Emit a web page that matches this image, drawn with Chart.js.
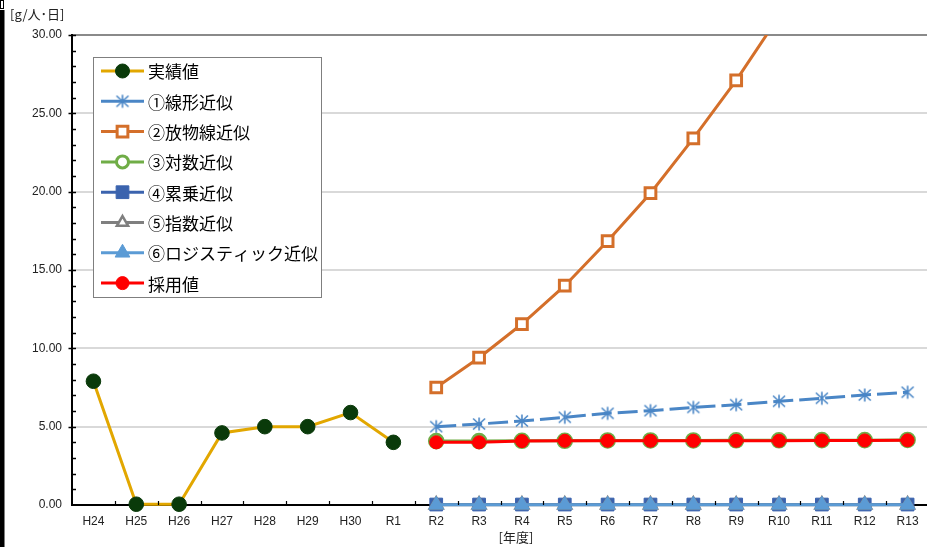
<!DOCTYPE html>
<html>
<head>
<meta charset="utf-8">
<script src="https://cdn.jsdelivr.net/npm/chart.js@4.4.1/dist/chart.umd.min.js"></script>
<style>
html,body{margin:0;padding:0;background:#fff;overflow:hidden;}
#wrap{position:relative;width:940px;height:547px;}
</style>
</head>
<body>
<div id="wrap"><canvas id="c"></canvas></div>
<script>
// ---- data ----
const categories = ['H24','H25','H26','H27','H28','H29','H30','R1','R2','R3','R4','R5','R6','R7','R8','R9','R10','R11','R12','R13'];
const seriesNames = ['実績値','①線形近似','②放物線近似','③対数近似','④累乗近似','⑤指数近似','⑥ロジスティック近似','採用値'];
const actual      = [7.9, 0.05, 0.05, 4.6, 5.0, 5.0, 5.9, 4.0, null,null,null,null,null,null,null,null,null,null,null,null];
const linear      = [null,null,null,null,null,null,null,null, 5.0, 5.17, 5.36, 5.6, 5.85, 6.02, 6.23, 6.4, 6.62, 6.81, 7.02, 7.2];
const parabolic   = [null,null,null,null,null,null,null,null, 7.5, 9.4, 11.55, 14.0, 16.85, 19.9, 23.4, 27.1, 31.2, 35.6, 40.3, 45.4];
const logarithmic = [null,null,null,null,null,null,null,null, 4.08, 4.08, 4.1, 4.1, 4.12, 4.12, 4.12, 4.13, 4.13, 4.14, 4.14, 4.15];
const power       = [null,null,null,null,null,null,null,null, 0.03, 0.03, 0.03, 0.03, 0.03, 0.03, 0.03, 0.03, 0.03, 0.03, 0.03, 0.03];
const exponential = [null,null,null,null,null,null,null,null, 0.02, 0.02, 0.02, 0.02, 0.02, 0.02, 0.02, 0.02, 0.02, 0.02, 0.02, 0.02];
const logistic    = [null,null,null,null,null,null,null,null, 0.01, 0.01, 0.01, 0.01, 0.01, 0.01, 0.01, 0.01, 0.01, 0.01, 0.01, 0.01];
const adopted     = [null,null,null,null,null,null,null,null, 4.0, 4.0, 4.08, 4.1, 4.1, 4.1, 4.1, 4.1, 4.1, 4.12, 4.12, 4.13];
const yTicks = [0, 5, 10, 15, 20, 25, 30];
const yUnitLabel = '[g/人･日]';
const xTitle = '[年度]';

// asterisk marker image
function makeAsterisk(color){
  const c = document.createElement('canvas');
  c.width = 16; c.height = 16;
  const g = c.getContext('2d');
  g.strokeStyle = color; g.lineWidth = 1.6; g.lineCap = 'butt';
  g.beginPath();
  g.moveTo(8,1.5); g.lineTo(8,14.5);
  g.moveTo(2,2.5); g.lineTo(14,13.5);
  g.moveTo(14,2.5); g.lineTo(2,13.5);
  g.stroke();
  return c;
}
const C = {
  actualLine:'#E2A700', actualPt:'#0A3A0A',
  linear:'#4A86C6', parab:'#D46F2A', log:'#70AD47', power:'#3B63AE',
  expo:'#7F7F7F', logi:'#5B9BD5', adopt:'#FF0000'
};
const asterisk = makeAsterisk(C.linear);

const datasets = [
  {label:seriesNames[0], data:actual, borderColor:C.actualLine, backgroundColor:C.actualPt, pointBorderColor:C.actualPt,
   pointStyle:'circle', pointRadius:7.3, pointBorderWidth:1, borderWidth:3, order:0, clip:false, _m:{style:'circle',r:7,fill:C.actualPt,stroke:C.actualPt,bw:1}},
  {label:seriesNames[1], data:linear, borderColor:C.linear, backgroundColor:C.linear, borderDash:[20,6],
   pointStyle:asterisk, pointRadius:8, borderWidth:3, order:7, clip:false, _m:{style:'asterisk'}},
  {label:seriesNames[2], data:parabolic, borderColor:C.parab, backgroundColor:'#ffffff', pointBorderColor:C.parab,
   pointStyle:'rect', pointRadius:7.6, pointBorderWidth:3, borderWidth:3, order:6, _m:{style:'rect',r:7.6,fill:'#fff',stroke:C.parab,bw:3}},
  {label:seriesNames[3], data:logarithmic, borderColor:C.log, backgroundColor:'#ffffff', pointBorderColor:C.log,
   pointStyle:'circle', pointRadius:6.8, pointBorderWidth:3, borderWidth:3, order:5, clip:false, _m:{style:'circle',r:6,fill:'#fff',stroke:C.log,bw:3}},
  {label:seriesNames[4], data:power, borderColor:C.power, backgroundColor:C.power, pointBorderColor:C.power,
   pointStyle:'rect', pointRadius:9, pointBorderWidth:1, borderWidth:3, order:4, clip:false, _m:{style:'rect',r:9,fill:C.power,stroke:C.power,bw:1}},
  {label:seriesNames[5], data:exponential, borderColor:C.expo, backgroundColor:'#ffffff', pointBorderColor:C.expo,
   pointStyle:'triangle', pointRadius:7, pointBorderWidth:3, borderWidth:3, order:3, clip:false, _m:{style:'triangle',r:6.5,fill:'#fff',stroke:C.expo,bw:2.5}},
  {label:seriesNames[6], data:logistic, borderColor:C.logi, backgroundColor:C.logi, pointBorderColor:C.logi,
   pointStyle:'triangle', pointRadius:8.5, pointBorderWidth:1, borderWidth:3, order:2, clip:false, _m:{style:'triangle',r:8.5,fill:C.logi,stroke:C.logi,bw:1}},
  {label:seriesNames[7], data:adopted, borderColor:C.adopt, backgroundColor:C.adopt, pointBorderColor:C.adopt,
   pointStyle:'circle', pointRadius:6.5, pointBorderWidth:1, borderWidth:3, order:1, clip:false, _m:{style:'circle',r:6.5,fill:C.adopt,stroke:C.adopt,bw:1}}
];
datasets.forEach(d=>{ d.tension=0; d.spanGaps=false; d.pointHoverRadius=d.pointRadius; });

function drawMarker(ctx, m, x, y){
  ctx.save();
  if (m.style==='asterisk'){ ctx.drawImage(asterisk, x-8, y-8); ctx.restore(); return; }
  ctx.beginPath();
  if (m.style==='circle'){ ctx.arc(x,y,m.r,0,Math.PI*2); }
  else if (m.style==='rect'){ const s=m.r*Math.SQRT1_2; ctx.rect(x-s,y-s,2*s,2*s); }
  else if (m.style==='triangle'){
    let a=0; ctx.moveTo(x+Math.sin(a)*m.r, y-Math.cos(a)*m.r);
    a+=2*Math.PI/3; ctx.lineTo(x+Math.sin(a)*m.r, y-Math.cos(a)*m.r);
    a+=2*Math.PI/3; ctx.lineTo(x+Math.sin(a)*m.r, y-Math.cos(a)*m.r);
    ctx.closePath();
  }
  ctx.fillStyle=m.fill; ctx.fill();
  ctx.lineWidth=m.bw; ctx.strokeStyle=m.stroke; ctx.stroke();
  ctx.restore();
}

const decor = {
  id:'decor',
  afterDraw(chart){
    const ctx = chart.ctx, ca = chart.chartArea;
    const ys = chart.scales.y, xs = chart.scales.x;
    ctx.save();
    // left frame remnants
    ctx.fillStyle='#000'; ctx.fillRect(0,10,4.5,537);
    ctx.strokeStyle='#000'; ctx.lineWidth=1; ctx.strokeRect(0.5,0.5,3,8);
    // y tick marks
    ctx.strokeStyle='#000'; ctx.lineWidth=1.5;
    for (let v=1; v<=30; v++){
      const y = Math.round(ys.getPixelForValue(v))+0.5;
      ctx.beginPath();
      ctx.moveTo(v%5===0 ? ca.left-3.5 : ca.left, y);
      ctx.lineTo(ca.left+4, y);
      ctx.stroke();
    }
    // x tick marks at category boundaries
    ctx.lineWidth=1.2;
    const step = (ca.right-ca.left)/categories.length;
    for (let i=1;i<categories.length;i++){
      const x = Math.round(ca.left+i*step)+0.5;
      ctx.beginPath(); ctx.moveTo(x,ca.bottom); ctx.lineTo(x,ca.bottom-4); ctx.stroke();
    }
    // unit label and x title
    ctx.fillStyle='#222';
    ctx.font='13px "Noto Sans CJK JP"';
    ctx.textBaseline='middle'; ctx.textAlign='left';
    ctx.fillText(yUnitLabel, 10, 14);
    ctx.textAlign='center';
    ctx.fillText(xTitle, 516, 537);
    // legend box
    const bx=93.5, by=57.5, bw=228, bh=240;
    ctx.fillStyle='#fff'; ctx.fillRect(bx,by,bw,bh);
    ctx.strokeStyle='#7f7f7f'; ctx.lineWidth=1; ctx.strokeRect(bx,by,bw,bh);
    ctx.font='17px "Noto Sans CJK JP"'; ctx.textAlign='left'; ctx.textBaseline='middle';
    chart.data.datasets.forEach((d,i)=>{
      const y = 71 + i*30.3;
      ctx.save();
      ctx.strokeStyle=d.borderColor; ctx.lineWidth=3;
      ctx.beginPath(); ctx.moveTo(101,y); ctx.lineTo(144,y); ctx.stroke();
      ctx.restore();
      drawMarker(ctx, d._m, 122.5, y);
      ctx.fillStyle='#000';
      ctx.fillText(d.label, 148, y+1);
    });
    ctx.restore();
  }
};

new Chart(document.getElementById('c'), {
  type:'line',
  data:{labels:categories, datasets:datasets},
  plugins:[decor],
  options:{
    responsive:true, maintainAspectRatio:false, animation:false,
    layout:{padding:{top:35,right:7,left:0,bottom:0}},
    plugins:{legend:{display:false}, tooltip:{enabled:false}},
    scales:{
      x:{
        offset:true,
        grid:{display:false, drawTicks:false},
        border:{display:true,color:'#000',width:2},
        ticks:{color:'#222', font:{family:'"Liberation Sans", Arial', size:12}, padding:9, maxRotation:0, autoSkip:false},
        afterFit(s){ s.height = 42; }
      },
      y:{
        min:0, max:30,
        afterBuildTicks(s){ s.ticks = yTicks.map(v=>({value:v})); },
        grid:{drawTicks:false, lineWidth:2,
          color:(c)=> c.tick && c.tick.value===30 ? '#8a8a8a' : (c.tick && c.tick.value===0 ? 'rgba(0,0,0,0)' : '#d9d9d9')},
        border:{display:true,color:'#000',width:2},
        ticks:{color:'#222', font:{family:'"Liberation Sans", Arial', size:12}, padding:10,
          callback:(v)=>Number(v).toFixed(2)},
        afterFit(s){ s.width = 72; }
      }
    }
  }
});
</script>
</body>
</html>
